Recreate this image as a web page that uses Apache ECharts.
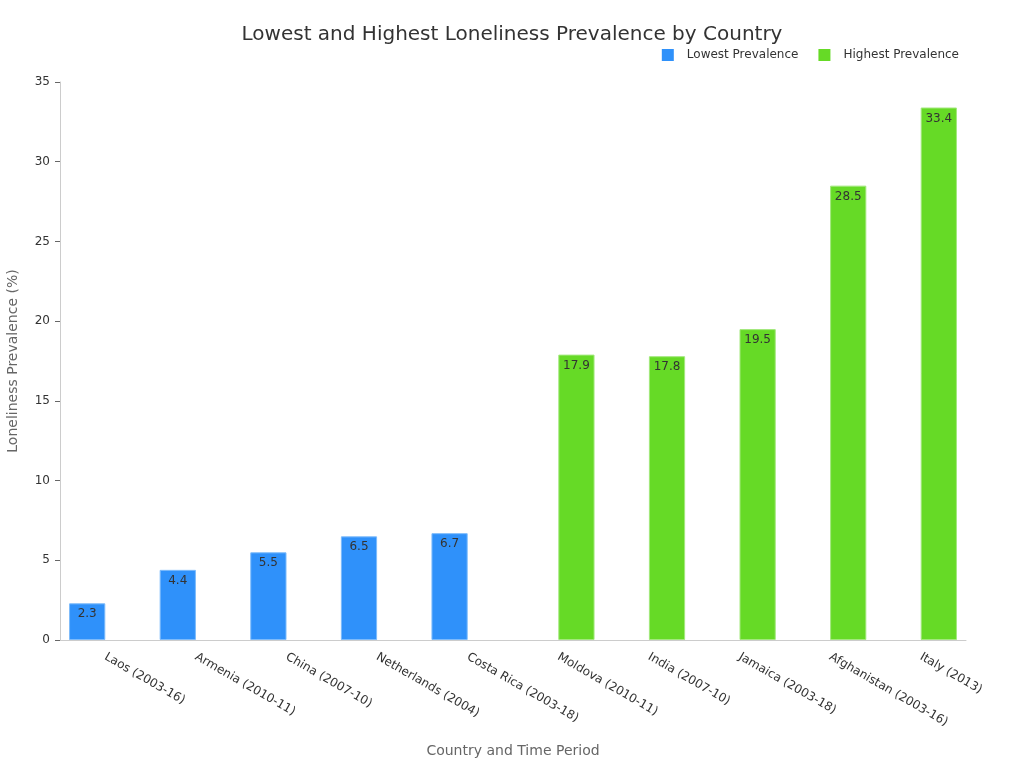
<!DOCTYPE html>
<html>
<head>
<meta charset="UTF-8">
<title>Loneliness Prevalence</title>
<script src="https://cdn.jsdelivr.net/npm/echarts@6/dist/echarts.min.js"></script>
<style>
  html, body { margin: 0; padding: 0; background: #fff; }
  #main { width: 1024px; height: 768px; }
</style>
</head>
<body>
<div id="main"></div>
<script>
// categories and values
var countries = ['Laos (2003-16)', 'Armenia (2010-11)', 'China (2007-10)', 'Netherlands (2004)', 'Costa Rica (2003-18)',
  'Moldova (2010-11)', 'India (2007-10)', 'Jamaica (2003-18)', 'Afghanistan (2003-16)', 'Italy (2013)'];
var lowest = [2.3, 4.4, 5.5, 6.5, 6.7, null, null, null, null, null];
var highest = [null, null, null, null, null, 17.9, 17.8, 19.5, 28.5, 33.4];
var yTicks = [0, 5, 10, 15, 20, 25, 30, 35];

var chart = echarts.init(document.getElementById('main'));
var font = 'DejaVu Sans';

var barLabel = {
  show: true,
  position: 'insideTop',
  distance: 5,
  color: '#333',
  fontSize: 12,
  fontFamily: font
};

chart.setOption({
  animation: false,
  textStyle: { fontFamily: font },
  title: {
    text: 'Lowest and Highest Loneliness Prevalence by Country',
    left: 'center',
    top: 20,
    textStyle: { fontSize: 20, fontWeight: 'normal', color: '#333', fontFamily: font }
  },
  legend: {
    right: 60,
    top: 44,
    itemWidth: 12,
    itemHeight: 12,
    itemGap: 20,
    icon: 'rect',
    itemStyle: { borderWidth: 0 },
    textStyle: { fontSize: 12, color: '#333', fontFamily: font, padding: [0, 0, 0, 8] },
    data: ['Lowest Prevalence', 'Highest Prevalence']
  },
  grid: { left: 60, right: 58, top: 82, bottom: 128, outerBoundsMode: 'none' },
  xAxis: {
    type: 'category',
    data: countries,
    name: 'Country and Time Period',
    nameLocation: 'middle',
    nameGap: 104,
    nameTextStyle: { fontSize: 14, color: '#666', fontFamily: font },
    axisLine: { lineStyle: { color: '#ccc' } },
    axisTick: { alignWithLabel: true, lineStyle: { color: '#666' } },
    axisLabel: { rotate: -30, fontSize: 12, color: '#333', margin: 16, fontFamily: font }
  },
  yAxis: {
    type: 'value',
    min: yTicks[0],
    max: yTicks[yTicks.length - 1],
    interval: 5,
    name: 'Loneliness Prevalence (%)',
    nameLocation: 'middle',
    nameGap: 40,
    nameTextStyle: { fontSize: 14, color: '#666', fontFamily: font },
    axisLine: { show: true, lineStyle: { color: '#ccc' } },
    axisTick: { show: true, lineStyle: { color: '#666' } },
    splitLine: { show: false },
    axisLabel: { fontSize: 12, color: '#333', margin: 10, fontFamily: font }
  },
  series: [
    {
      name: 'Lowest Prevalence',
      type: 'bar',
      data: lowest,
      barGap: '0%',
      barCategoryGap: '20%',
      itemStyle: { color: '#2f91fa', borderColor: '#7dbbfb', borderWidth: 1 },
      label: barLabel
    },
    {
      name: 'Highest Prevalence',
      type: 'bar',
      data: highest,
      barGap: '0%',
      barCategoryGap: '20%',
      itemStyle: { color: '#66da26', borderColor: '#a3e87d', borderWidth: 1 },
      label: barLabel
    }
  ]
});
</script>
</body>
</html>
